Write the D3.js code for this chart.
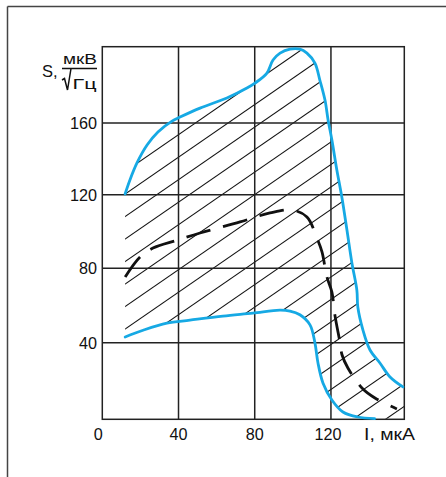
<!DOCTYPE html>
<html><head><meta charset="utf-8">
<script src="https://cdn.jsdelivr.net/npm/d3@7"></script>
<style>html,body{margin:0;padding:0;background:#fff;}svg{display:block;font-family:"Liberation Sans",Arial,sans-serif;}</style>
</head><body>
<svg id="c" width="446" height="477"></svg>
<script>
// Data (I in мкА, S in мкВ/√Гц)
const xTicks = [0, 40, 80, 120];
const yTicks = [40, 80, 120, 160];
const upperI = [11.96,14.5,18.2,23.5,29.2,36.6,40.8,51.3,65.4,75.9,80.1,86.4,89.6,93.3,98.5,103.7,107.4,111.6,114.2,116.9,118.5,120.5,123.1,125.8,128.4,131,133.6,134.1,136.8,140.5,145.7,151,157.8];
const upperS = [120.4,128.2,137.7,147.7,155,161,163.1,167.8,173.1,178.3,180.9,186.2,193,196.6,198.7,198.7,196.6,191.4,182.4,171.9,161.6,150.5,133.8,118.2,100.8,82.9,68.3,59.2,46.8,36.2,29.4,22.1,16.9];
const lowerI = [12,21.4,33.9,46,63.3,79,93.2,98.5,103.7,109,111.6,113.2,115.8,120.5,126.3,134.1,143];
const lowerS = [43.1,46.7,50.5,52.1,54.3,55.9,57.5,57,55,49.6,39.9,29.4,19,10.1,3.8,1.2,0.4];
const dashI = [12,19.8,26.6,39.7,51.3,72.3,88,99.6,107.4,112.6,115.3,117.9,120.5,122.1,124.7,125.8,128.9,136.8,143.1,154.6];
const dashS = [75.3,86.1,91,95.4,99.2,105.2,110.1,111.7,107.9,96.5,88.9,75.3,67.2,54.7,40.4,33.7,26.8,15.8,11.1,5.4];

const svg = d3.select("#c");
const x = d3.scaleLinear().domain([0, 158.5]).range([102.3, 404.3]);
const y = d3.scaleLinear().domain([0, 40, 80, 120, 160, 200]).range([419.3, 342.7, 268.3, 194.7, 123, 46.7]);

const zip = (a, b) => a.map((v, i) => [v, b[i]]);
const upper = zip(upperI, upperS), lower = zip(lowerI, lowerS), dashed = zip(dashI, dashS);
const line = d3.line().x(d => x(d[0])).y(d => y(d[1])).curve(d3.curveCatmullRom.alpha(0.5));

// outer frame (top + left)
svg.append("line").attr("x1",7.5).attr("y1",6.5).attr("x2",446).attr("y2",6.5).attr("stroke","#444").attr("stroke-width",1.5);
svg.append("line").attr("x1",7.5).attr("y1",6.5).attr("x2",7.5).attr("y2",477).attr("stroke","#444").attr("stroke-width",1.5);

// hatch clip region
const lowerRev = lower.slice().reverse();
const regionPath = line(upper) + "L" + x(158.5) + "," + y(16.9) + "L" + x(158.5) + "," + y(0) +
  line(lowerRev).replace(/^M/, "L") + "Z";
svg.append("clipPath").attr("id","hc").append("path").attr("d", regionPath);
const hg = svg.append("g").attr("clip-path","url(#hc)");
const slope = -0.69, x0 = x(11.96), y0 = y(120.4), step = 22.5;
for (let k = -6; k < 30; k++) {
  const xa = 90, xb = 420;
  hg.append("line").attr("x1", xa).attr("y1", y0 + k*step + slope*(xa - x0))
    .attr("x2", xb).attr("y2", y0 + k*step + slope*(xb - x0))
    .attr("stroke","#111").attr("stroke-width",1.1);
}

// grid
const g = svg.append("g");
yTicks.forEach(t => g.append("line").attr("x1",x(0)).attr("x2",x(158.5)).attr("y1",y(t)).attr("y2",y(t)).attr("stroke","#222").attr("stroke-width",1.5));
xTicks.slice(1).forEach(t => g.append("line").attr("x1",x(t)).attr("x2",x(t)).attr("y1",y(0)).attr("y2",y(200)).attr("stroke","#222").attr("stroke-width",1.5));
g.append("rect").attr("x",x(0)).attr("y",y(200)).attr("width",x(158.5)-x(0)).attr("height",y(0)-y(200))
  .attr("fill","none").attr("stroke","#222").attr("stroke-width",1.5);

// curves
svg.append("path").attr("d", line(dashed)).attr("fill","none").attr("stroke","#111").attr("stroke-width",2.8).attr("stroke-dasharray","25,13");
svg.append("path").attr("d", line(upper)).attr("fill","none").attr("stroke","#16a9e4").attr("stroke-width",2.8).attr("stroke-linecap","round");
svg.append("path").attr("d", line(lower)).attr("fill","none").attr("stroke","#16a9e4").attr("stroke-width",2.8).attr("stroke-linecap","round");

// tick labels
const fs = "16.2px";
xTicks.forEach(t => svg.append("text").attr("x", t === 0 ? x(t) - 4 : (t === 120 ? x(t) - 3 : x(t))).attr("y",439.5)
  .attr("text-anchor","middle").attr("font-size",fs).attr("fill","#111").text(t));
yTicks.forEach(t => svg.append("text").attr("x",97).attr("y",y(t)+6)
  .attr("text-anchor","end").attr("font-size",fs).attr("fill","#111").text(t));
svg.append("text").attr("x",364).attr("y",439.5).attr("font-size","16px").attr("fill","#111")
  .attr("textLength",51).attr("lengthAdjust","spacingAndGlyphs").text("I, мкА");

// y title
svg.append("text").attr("x",42).attr("y",76.5).attr("font-size","16.5px").attr("fill","#111").text("S,");
svg.append("text").attr("x",63).attr("y",64).attr("font-size","15px").attr("fill","#111")
  .attr("textLength",34).attr("lengthAdjust","spacingAndGlyphs").text("мкВ");
svg.append("line").attr("x1",62).attr("x2",97).attr("y1",68.5).attr("y2",68.5).attr("stroke","#111").attr("stroke-width",1.4);
svg.append("path").attr("d","M62,80 L64.5,78.5 L67.5,90 L71,68.5").attr("fill","none").attr("stroke","#111").attr("stroke-width",1.5);
svg.append("text").attr("x",72.5).attr("y",88.5).attr("font-size","15.5px").attr("fill","#111")
  .attr("textLength",24).attr("lengthAdjust","spacingAndGlyphs").text("Гц");
</script>
</body></html>
